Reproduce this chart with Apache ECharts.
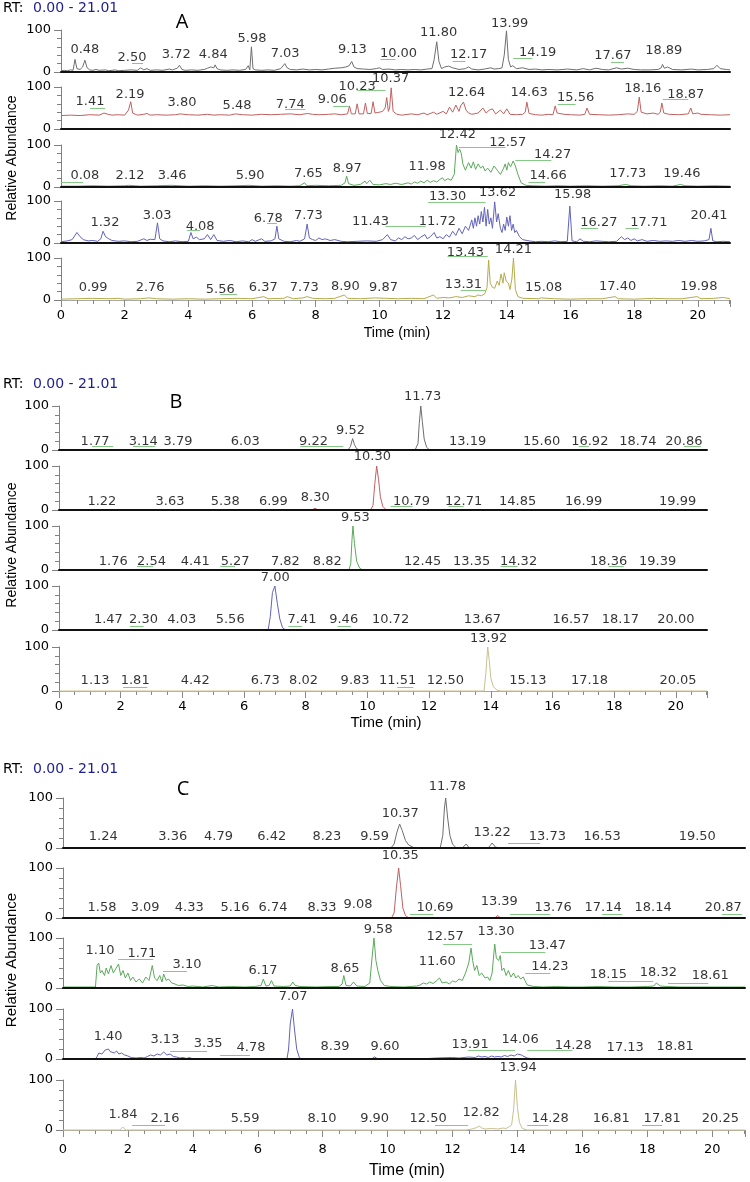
<!DOCTYPE html>
<html><head><meta charset="utf-8">
<script src="https://cdn.jsdelivr.net/npm/echarts@6/dist/echarts.min.js"></script>
<style>html,body{margin:0;padding:0;background:#fff}#c{width:750px;height:1182px}</style>
</head><body><div id="c"></div>
<script>
// ---------- DATA (time [min], relative abundance [%]) as flat t,v pairs ----------
const trA1 = [0,3, 0.1,4, 0.2,3, 0.3,5, 0.38,4, 0.44,30, 0.5,8, 0.6,6, 0.68,12, 0.75,28, 0.82,10, 0.9,5, 1.0,4, 1.1,6, 1.2,4, 1.4,5, 1.5,3, 1.7,5, 1.8,3, 2.0,4, 2.2,5, 2.4,4, 2.5,10, 2.6,5, 2.7,8, 2.8,4, 3.0,5, 3.2,4, 3.4,7, 3.5,5, 3.65,9, 3.72,16, 3.8,6, 3.9,4, 4.1,5, 4.3,4, 4.5,6, 4.6,9, 4.7,12, 4.8,10, 4.84,17, 4.9,8, 5.0,5, 5.2,4, 5.4,5, 5.6,4, 5.8,6, 5.88,15, 5.93,5, 5.98,60, 6.03,8, 6.1,5, 6.3,4, 6.5,5, 6.7,4, 6.9,8, 7.03,20, 7.1,10, 7.2,6, 7.4,5, 7.6,7, 7.8,5, 8.0,6, 8.2,5, 8.4,7, 8.6,9, 8.8,10, 8.95,12, 9.05,15, 9.13,25, 9.2,12, 9.3,8, 9.5,7, 9.7,6, 9.9,8, 10.0,10, 10.1,6, 10.3,7, 10.5,5, 10.7,6, 10.9,5, 11.1,6, 11.3,5, 11.5,7, 11.65,8, 11.72,30, 11.8,72, 11.87,25, 11.95,8, 12.05,12, 12.17,14, 12.3,10, 12.5,6, 12.7,8, 12.8,12, 12.9,7, 13.1,5, 13.3,7, 13.5,10, 13.6,7, 13.75,8, 13.85,10, 13.92,40, 13.99,98, 14.05,30, 14.12,12, 14.19,15, 14.3,8, 14.5,10, 14.7,6, 14.9,7, 15.1,5, 15.3,6, 15.6,5, 15.9,7, 16.2,5, 16.4,8, 16.6,5, 16.8,9, 17.0,6, 17.2,5, 17.45,10, 17.6,7, 17.8,9, 18.0,6, 18.2,5, 18.5,5, 18.75,6, 18.85,10, 18.89,18, 18.95,9, 19.05,12, 19.2,6, 19.5,5, 19.8,7, 20.0,5, 20.3,6, 20.5,8, 20.6,16, 20.7,8, 20.9,6, 21.01,5];
const trA2 = [0,32, 0.3,33, 0.6,32, 0.9,34, 1.2,33, 1.35,38, 1.41,42, 1.48,35, 1.6,33, 1.8,34, 2.0,33, 2.12,45, 2.19,65, 2.25,38, 2.4,33, 2.6,35, 2.7,37, 2.8,33, 3.0,34, 3.3,33, 3.6,34, 3.74,36, 3.8,40, 3.86,35, 4.0,34, 4.3,33, 4.6,35, 4.8,33, 5.0,34, 5.3,33, 5.48,36, 5.7,34, 6.0,33, 6.3,35, 6.6,34, 6.9,35, 7.2,36, 7.5,34, 7.74,37, 7.9,35, 8.1,34, 8.4,35, 8.6,36, 8.8,34, 9.0,36, 9.06,55, 9.12,36, 9.24,36, 9.3,60, 9.36,36, 9.5,36, 9.56,62, 9.62,37, 9.74,37, 9.8,65, 9.86,38, 10.0,40, 10.1,42, 10.18,50, 10.23,75, 10.28,42, 10.32,50, 10.37,98, 10.43,42, 10.55,35, 10.7,33, 11.0,36, 11.2,34, 11.4,38, 11.5,34, 11.7,40, 11.8,35, 12.0,42, 12.1,36, 12.2,52, 12.3,40, 12.4,57, 12.5,42, 12.55,55, 12.64,64, 12.72,45, 12.8,38, 12.9,35, 13.1,38, 13.25,50, 13.35,38, 13.45,45, 13.55,48, 13.65,36, 13.8,45, 13.9,36, 14.0,48, 14.1,35, 14.3,34, 14.5,35, 14.58,40, 14.63,64, 14.7,37, 14.9,34, 15.1,33, 15.3,35, 15.45,34, 15.52,55, 15.58,38, 15.8,35, 16.0,34, 16.3,33, 16.45,35, 16.52,50, 16.6,35, 16.9,34, 17.2,33, 17.5,34, 17.8,36, 18.0,35, 18.1,42, 18.16,76, 18.22,40, 18.4,36, 18.6,38, 18.75,35, 18.82,40, 18.87,62, 18.93,38, 19.1,35, 19.4,34, 19.7,36, 19.78,50, 19.84,36, 20.0,38, 20.1,35, 20.4,34, 20.7,33, 21.01,34];
const trA3 = [0,2, 0.5,2, 1.0,3, 1.5,2, 2.0,3, 2.12,4, 2.5,2, 3.0,3, 3.46,4, 4.0,2, 4.5,3, 5.0,2, 5.5,3, 5.9,4, 6.3,2, 6.8,3, 7.2,2, 7.5,3, 7.65,10, 7.72,3, 8.0,4, 8.4,3, 8.8,4, 8.92,10, 8.97,26, 9.03,8, 9.2,4, 9.4,6, 9.55,14, 9.6,8, 9.7,16, 9.8,6, 10.0,5, 10.2,8, 10.35,6, 10.5,9, 10.7,6, 10.9,10, 11.0,7, 11.1,12, 11.2,9, 11.3,14, 11.4,10, 11.5,16, 11.6,11, 11.7,15, 11.8,12, 11.9,18, 11.98,22, 12.05,15, 12.15,20, 12.25,16, 12.35,30, 12.42,100, 12.47,82, 12.52,90, 12.57,80, 12.62,55, 12.7,40, 12.8,58, 12.88,45, 12.95,60, 13.02,42, 13.1,55, 13.18,45, 13.25,50, 13.32,38, 13.4,45, 13.5,35, 13.6,50, 13.7,40, 13.8,30, 13.9,45, 13.95,55, 14.0,40, 14.05,58, 14.12,48, 14.2,62, 14.27,50, 14.35,30, 14.45,10, 14.6,4, 14.8,3, 15.2,2, 15.6,3, 16.0,2, 16.5,3, 17.0,2, 17.5,3, 17.73,6, 17.9,3, 18.3,2, 18.8,3, 19.2,2, 19.46,6, 19.6,3, 20.0,2, 20.5,3, 21.01,2];
const trA4 = [0,3, 0.2,5, 0.35,8, 0.5,25, 0.6,15, 0.7,8, 0.85,5, 1.0,6, 1.15,4, 1.25,10, 1.32,28, 1.4,15, 1.5,10, 1.6,6, 1.8,4, 2.0,5, 2.2,3, 2.4,4, 2.6,10, 2.7,6, 2.8,9, 2.95,8, 3.03,48, 3.1,10, 3.2,5, 3.4,3, 3.6,5, 3.8,3, 4.0,4, 4.08,25, 4.15,10, 4.25,14, 4.35,8, 4.5,10, 4.6,20, 4.7,8, 4.8,20, 4.9,6, 5.1,4, 5.3,6, 5.5,3, 5.7,5, 5.9,3, 6.0,8, 6.1,4, 6.3,10, 6.4,4, 6.6,5, 6.72,10, 6.78,40, 6.84,10, 7.0,4, 7.2,3, 7.4,6, 7.5,4, 7.65,10, 7.73,45, 7.8,12, 7.9,8, 8.0,6, 8.1,12, 8.2,8, 8.3,10, 8.45,6, 8.6,8, 8.8,4, 9.0,3, 9.3,4, 9.6,5, 9.9,4, 10.1,8, 10.25,20, 10.35,8, 10.5,5, 10.6,12, 10.7,8, 10.8,15, 10.9,10, 11.0,12, 11.1,18, 11.2,8, 11.3,14, 11.43,20, 11.5,10, 11.6,15, 11.72,25, 11.8,12, 11.9,15, 12.0,10, 12.1,20, 12.2,14, 12.3,28, 12.4,18, 12.5,35, 12.6,22, 12.7,40, 12.8,30, 12.9,55, 12.95,35, 13.0,60, 13.05,40, 13.1,65, 13.15,45, 13.2,75, 13.25,50, 13.3,85, 13.35,40, 13.4,80, 13.45,45, 13.5,60, 13.55,35, 13.62,98, 13.68,50, 13.73,70, 13.8,35, 13.85,25, 13.9,45, 13.95,30, 14.0,62, 14.05,40, 14.1,65, 14.15,30, 14.2,45, 14.25,25, 14.3,30, 14.4,15, 14.5,8, 14.7,5, 14.9,3, 15.1,4, 15.3,3, 15.5,5, 15.7,3, 15.9,4, 15.98,88, 16.05,5, 16.2,3, 16.3,10, 16.4,4, 16.6,3, 16.8,5, 17.0,4, 17.2,3, 17.45,4, 17.6,15, 17.7,8, 17.8,12, 17.9,6, 18.0,10, 18.1,5, 18.25,8, 18.4,4, 18.6,6, 18.8,4, 19.0,5, 19.2,4, 19.4,6, 19.6,4, 19.8,6, 20.0,4, 20.2,5, 20.35,8, 20.41,35, 20.47,5, 20.6,3, 20.8,4, 21.01,3];
const trA5 = [0,2, 0.5,3, 1.0,4, 1.5,3, 1.8,4, 2.0,2, 2.5,3, 2.76,5, 3.0,3, 3.5,2, 4.0,3, 4.5,2, 5.0,3, 5.56,4, 6.0,3, 6.37,8, 6.5,3, 7.0,4, 7.1,8, 7.3,3, 7.6,5, 7.73,8, 7.9,4, 8.3,3, 8.6,4, 8.9,12, 9.0,4, 9.4,3, 9.87,5, 10.2,4, 10.6,3, 11.0,4, 11.4,3, 11.7,12, 11.8,4, 12.0,6, 12.2,5, 12.4,8, 12.6,6, 12.8,10, 13.0,8, 13.1,12, 13.2,10, 13.31,15, 13.38,30, 13.43,95, 13.48,40, 13.55,30, 13.62,28, 13.7,45, 13.76,35, 13.82,62, 13.88,40, 13.92,65, 13.98,45, 14.05,40, 14.1,25, 14.16,50, 14.21,100, 14.27,25, 14.35,8, 14.5,4, 15.0,3, 15.08,5, 15.5,3, 16.0,2, 16.5,3, 17.0,3, 17.4,8, 17.5,3, 18.0,2, 18.6,4, 19.0,3, 19.5,3, 19.98,8, 20.1,3, 20.5,4, 20.8,6, 21.01,3];

const trB1 = [0,0, 1.0,0, 1.77,0.5, 3.0,0, 9.3,0, 9.38,1, 9.45,8, 9.52,26, 9.58,12, 9.65,3, 9.72,0.5, 11.55,0.5, 11.64,15, 11.68,60, 11.73,100, 11.78,65, 11.84,25, 11.92,6, 12.0,1, 12.2,0, 21.01,0];
const trB2 = [0,0, 8.2,0, 8.3,4, 8.4,0, 10.1,0, 10.18,10, 10.24,60, 10.3,100, 10.36,70, 10.42,30, 10.5,8, 10.6,1, 10.8,0, 21.01,0];
const trB3 = [0,0, 9.4,0, 9.46,15, 9.5,70, 9.53,100, 9.58,60, 9.65,20, 9.75,4, 9.85,0, 21.01,0];
const trB4 = [0,0, 6.78,0, 6.85,30, 6.92,85, 7.0,100, 7.08,60, 7.16,25, 7.25,5, 7.35,0, 21.01,0];
const trB5 = [0,0, 13.78,0, 13.84,40, 13.9,100, 13.95,70, 14.0,30, 14.08,10, 14.2,2, 14.3,0, 21.01,0];

const trC1 = [0,0, 10.1,0, 10.2,8, 10.28,30, 10.37,48, 10.45,35, 10.55,15, 10.65,6, 10.8,1, 11.0,0, 11.62,0, 11.7,25, 11.75,80, 11.79,100, 11.85,60, 11.92,25, 12.0,8, 12.1,1, 12.3,0, 12.42,8, 12.52,0, 13.1,0, 13.22,10, 13.32,2, 13.45,0, 21.01,0];
const trC2 = [0,0, 10.12,0, 10.2,10, 10.27,60, 10.34,100, 10.4,65, 10.47,20, 10.55,5, 10.65,0, 13.3,0, 13.39,5, 13.48,0, 21.01,0];
const trC3 = [0,2, 0.5,2, 1.0,2, 1.05,45, 1.1,50, 1.15,30, 1.2,35, 1.28,25, 1.33,40, 1.4,28, 1.48,45, 1.55,30, 1.62,38, 1.71,48, 1.78,25, 1.85,35, 1.92,20, 2.0,30, 2.08,15, 2.15,22, 2.25,12, 2.35,18, 2.45,10, 2.55,22, 2.65,15, 2.75,45, 2.82,20, 2.9,15, 2.98,25, 3.05,12, 3.1,28, 3.18,15, 3.25,18, 3.35,10, 3.45,8, 3.55,5, 3.7,6, 3.85,3, 4.0,4, 4.3,2, 4.6,5, 4.8,2, 5.2,3, 5.6,2, 5.9,3, 6.1,5, 6.17,18, 6.25,4, 6.35,5, 6.42,15, 6.5,4, 6.8,3, 7.0,4, 7.08,12, 7.15,5, 7.3,3, 7.8,2, 8.2,3, 8.5,3, 8.6,8, 8.65,25, 8.72,5, 8.85,4, 8.95,12, 9.05,4, 9.3,3, 9.45,10, 9.52,60, 9.58,100, 9.64,55, 9.7,35, 9.78,15, 9.9,5, 10.1,3, 10.5,2, 10.9,4, 11.0,6, 11.1,10, 11.2,8, 11.3,12, 11.4,9, 11.5,14, 11.6,20, 11.68,10, 11.8,12, 11.9,8, 12.0,14, 12.1,12, 12.2,18, 12.3,15, 12.4,30, 12.5,50, 12.57,80, 12.62,55, 12.68,35, 12.75,45, 12.82,25, 12.9,30, 13.0,20, 13.08,22, 13.15,15, 13.22,30, 13.3,88, 13.35,60, 13.42,55, 13.47,65, 13.52,35, 13.58,40, 13.65,25, 13.72,35, 13.8,22, 13.88,30, 13.95,20, 14.02,25, 14.1,18, 14.18,22, 14.23,15, 14.3,6, 14.5,3, 14.8,2, 15.2,3, 15.6,2, 16.0,2, 16.5,3, 17.0,2, 17.5,2, 18.0,3, 18.2,4, 18.28,10, 18.32,12, 18.4,4, 18.61,3, 19.0,2, 19.5,2, 20.0,2, 20.5,2, 21.01,2];
const trC4 = [0,0, 1.0,0, 1.05,5, 1.1,12, 1.2,10, 1.3,18, 1.4,20, 1.45,15, 1.5,18, 1.58,12, 1.65,16, 1.72,10, 1.8,12, 1.9,8, 2.0,6, 2.1,3, 2.25,2, 2.4,3, 2.5,2, 2.6,5, 2.7,8, 2.8,6, 2.9,10, 3.0,8, 3.1,14, 3.15,12, 3.2,8, 3.3,10, 3.4,5, 3.5,4, 3.6,2, 3.7,3, 3.8,1, 3.9,3, 4.0,0, 6.9,0, 6.95,20, 7.0,70, 7.07,100, 7.13,60, 7.2,20, 7.28,3, 7.35,0, 9.5,0, 9.6,4, 9.7,0, 11.0,0, 11.5,2, 12.0,3, 12.2,2, 12.5,4, 12.7,3, 12.8,6, 12.9,4, 13.0,5, 13.1,3, 13.2,6, 13.3,4, 13.4,5, 13.5,4, 13.6,7, 13.7,5, 13.8,8, 13.9,6, 14.0,10, 14.06,12, 14.12,8, 14.2,5, 14.3,2, 14.5,0, 18.8,0, 18.85,2, 18.9,0, 21.01,0];
const trC5 = [0,0, 1.75,0, 1.84,6, 1.93,0, 12.4,0, 12.6,2, 12.75,5, 12.82,8, 12.9,4, 13.0,2, 13.2,3, 13.4,2, 13.55,4, 13.65,3, 13.75,7, 13.82,10, 13.88,40, 13.94,100, 14.0,45, 14.06,15, 14.15,3, 14.3,0, 21.01,0];

// peak annotations: [text, time position, abundance position]
const lbA1 = [['0.48',0.75,53],['2.50',2.23,35],['3.72',3.62,42],['4.84',4.78,42],['5.98',6.0,79],['7.03',7.04,44],['9.13',9.15,53],['10.00',10.6,44],['11.80',11.86,93],['12.17',12.8,42],['13.99',14.09,116],['14.19',14.97,46],['17.67',17.33,40],['18.89',18.93,51]];
const lbA2 = [['1.41',0.91,64],['2.19',2.17,81],['3.80',3.8,62],['5.48',5.53,55],['7.74',7.2,57],['9.06',8.52,69],['10.23',9.3,102],['10.37',10.35,121],['12.64',12.74,86],['14.63',14.7,86],['15.56',16.16,74],['18.16',18.27,95],['18.87',19.62,81]];
const lbA3 = [['0.08',0.75,26],['2.12',2.17,26],['3.46',3.49,26],['5.90',5.94,26],['7.65',7.77,31],['8.97',8.99,43],['11.98',11.5,48],['12.42',12.45,124],['12.57',14.03,105],['14.27',15.44,76],['14.66',15.3,26],['17.73',17.8,31],['19.46',19.5,31]];
const lbA4 = [['1.32',1.38,48],['3.03',3.02,64],['4.08',4.37,40],['6.78',6.51,57],['7.73',7.77,64],['11.43',9.72,50],['11.72',11.82,50],['13.30',12.14,110],['13.62',13.71,119],['15.98',16.07,114],['16.27',16.89,48],['17.71',18.46,48],['20.41',20.35,64]];
const lbA5 = [['0.99',1.01,29],['2.76',2.8,29],['5.56',5.0,24],['6.37',6.35,29],['7.73',7.64,29],['8.90',8.93,33],['9.87',10.13,29],['13.31',12.64,36],['13.43',12.7,112],['14.21',14.21,119],['15.08',15.16,29],['17.40',17.48,31],['19.98',20.03,31]];
const lbB1 = [['1.77',1.17,20],['3.14',2.73,20],['3.79',3.86,20],['6.03',6.04,20],['9.22',8.25,20],['9.52',9.45,43],['11.73',11.79,121],['13.19',13.25,20],['15.60',15.65,20],['16.92',17.21,20],['18.74',18.77,20],['20.86',20.26,20]];
const lbB2 = [['1.22',1.39,20],['3.63',3.6,20],['5.38',5.39,20],['6.99',6.95,20],['8.30',8.31,27],['10.30',10.16,121],['10.79',11.43,20],['12.71',13.12,20],['14.85',14.87,20],['16.99',17.01,20],['19.99',20.06,20]];
const lbB3 = [['1.76',1.76,20],['2.54',3.0,20],['4.41',4.42,20],['5.27',5.71,20],['7.82',7.34,20],['8.82',8.7,20],['9.53',9.61,118],['12.45',11.79,20],['13.35',13.38,20],['14.32',14.9,20],['18.36',17.82,20],['19.39',19.41,20]];
const lbB4 = [['1.47',1.6,23],['2.30',2.74,23],['4.03',3.98,23],['5.56',5.55,23],['7.00',7.01,118],['7.41',7.88,23],['9.46',9.23,23],['10.72',10.75,23],['13.67',13.73,23],['16.57',16.6,23],['18.17',18.2,23],['20.00',20.0,23]];
const lbB5 = [['1.13',1.17,23],['1.81',2.47,23],['4.42',4.42,23],['6.73',6.69,23],['8.02',7.93,23],['9.83',9.6,23],['11.51',10.98,23],['12.50',12.53,23],['13.92',13.93,120],['15.13',15.2,23],['17.18',17.2,23],['20.05',20.07,23]];
const lbC1 = [['1.24',1.24,22],['3.36',3.38,22],['4.79',4.79,22],['6.42',6.43,22],['8.23',8.13,22],['9.59',9.6,22],['10.37',10.39,68],['11.78',11.84,122],['13.22',13.22,30],['13.73',14.92,22],['16.53',16.61,22],['19.50',19.54,22]];
const lbC2 = [['1.58',1.2,20],['3.09',2.53,20],['4.33',3.89,20],['5.16',5.3,20],['6.74',6.47,20],['8.33',7.98,20],['9.08',9.09,26],['10.35',10.39,124],['10.69',11.46,20],['13.39',13.44,32],['13.76',15.1,20],['17.14',16.64,20],['18.14',18.18,20],['20.87',20.34,20]];
const lbC3 = [['1.10',1.14,75],['1.71',2.43,69],['3.10',3.82,47],['6.17',6.16,35],['8.65',8.69,39],['9.58',9.71,116],['11.60',11.53,53],['12.57',11.77,102],['13.30',13.34,112],['13.47',14.92,84],['14.23',15.0,43],['18.15',16.8,27],['18.32',18.34,31],['18.61',19.94,24]];
const lbC4 = [['1.40',1.39,44],['3.13',3.14,38],['3.35',4.47,30],['4.78',5.79,22],['7.07',7.09,124],['8.39',8.38,24],['9.60',9.92,24],['13.91',12.54,28],['14.06',14.08,38],['14.28',15.72,26],['17.13',17.32,22],['18.81',18.86,24]];
const lbC5 = [['1.84',1.85,30],['2.16',3.14,22],['5.59',5.61,22],['8.10',7.98,22],['9.90',9.6,22],['12.50',11.25,22],['12.82',12.88,34],['13.94',14.02,124],['14.28',15.01,22],['16.81',16.89,22],['17.81',18.46,22],['20.25',20.25,22]];

// leader lines: [from time, to time, abundance]
const ldA1 = [[2.23,2.58,22],[10.03,10.5,30],[12.3,12.7,26],[14.2,14.8,33],[17.27,17.68,23]];
const ldA2 = [[0.91,1.38,50],[7.04,7.67,48],[8.55,9.03,55],[9.3,10.19,93],[15.6,16.16,60],[18.9,19.7,71]];
const ldA3 = [[0,0.7,12],[12.5,13.96,95],[14.27,15.4,64],[14.68,15.2,12]];
const ldA4 = [[3.96,4.37,31],[6.47,6.78,48],[10.19,11.45,39],[11.53,13.33,98],[16.32,16.86,36],[17.73,18.14,36]];
const ldA5 = [[5.0,5.53,13],[12.55,13.33,24],[12.14,13.4,103]];
const ldB1 = [[1.07,1.75,9],[2.4,3.12,9],[7.82,9.22,9],[16.85,17.18,9],[20.26,20.81,9]];
const ldB2 = [[10.75,11.46,9],[12.63,13.12,9]];
const ldB3 = [[2.53,3.05,9],[5.23,5.71,9],[14.32,14.87,9],[17.82,18.31,9]];
const ldB4 = [[2.3,2.74,9],[7.44,7.88,9],[9.03,9.46,9]];
const ldB5 = [[2.08,2.86,9],[10.97,11.49,9]];
const ldC1 = [[13.71,14.7,10]];
const ldC2 = [[10.69,11.4,8],[13.77,15.01,8],[16.61,17.23,8],[20.3,20.92,8]];
const ldC3 = [[1.7,2.78,57],[3.08,3.82,33],[11.71,12.6,88],[13.5,14.86,72],[14.24,15.01,29],[16.8,18.18,14],[18.64,19.88,10]];
const ldC4 = [[3.3,4.44,16],[4.84,5.76,8],[12.48,13.93,18],[14.3,15.69,18]];
const ldC5 = [[2.13,3.14,10],[11.46,12.48,10],[14.3,14.95,10],[17.84,18.46,10]];

const timeTicks = [0,2,4,6,8,10,12,14,16,18,20];
const rtRange = '0.00 - 21.01';
const panelLetters = ['A','B','C'];

// ---------- LAYOUT / STYLE ----------
const colA = ['#6e6e6e','#c06060','#5aaa5a','#6262bc','#b4ac48'];
const colBC = ['#6e6e6e','#c06060','#5aaa5a','#6262bc','#c8c08c'];
const panels = [
  {left:61, width:669, tops:[30,87,145,201,258], h:42, tr:[trA1,trA2,trA3,trA4,trA5], lb:[lbA1,lbA2,lbA3,lbA4,lbA5], ld:[ldA1,ldA2,ldA3,ldA4,ldA5], col:colA,
   rtY:8, let:[182,22], yl:158, ylSize:14, tl:[397,333], tlSize:14, xlm:9},
  {left:59, width:648, tops:[406,466,526,586,647], h:44, tr:[trB1,trB2,trB3,trB4,trB5], lb:[lbB1,lbB2,lbB3,lbB4,lbB5], ld:[ldB1,ldB2,ldB3,ldB4,ldB5], col:colBC,
   rtY:384, let:[176,402], yl:545, ylSize:14, tl:[386,723], tlSize:15, xlm:9},
  {left:63, width:682, tops:[798,868,938,1009,1080], h:50, tr:[trC1,trC2,trC3,trC4,trC5], lb:[lbC1,lbC2,lbC3,lbC4,lbC5], ld:[ldC1,ldC2,ldC3,ldC4,ldC5], col:colBC,
   rtY:769, let:[183,789], yl:960, ylSize:15, tl:[407,1171], tlSize:16, xlm:13}
];
const LBL_FONT = 'DejaVu Sans';

function pairs(a){const r=[];for(let i=0;i<a.length;i+=2)r.push([a[i],a[i+1]]);return r;}

const option = {animation:false, grid:[], xAxis:[], yAxis:[], series:[], graphic:[]};
let gi = 0;
panels.forEach((p,pi)=>{
  for(let r=0;r<5;r++){
    const last = r===4;
    option.grid.push({left:p.left, top:p.tops[r], width:p.width, height:p.h, containLabel:false, outerBoundsMode:'none'});
    option.xAxis.push({gridIndex:gi, type:'value', min:0, max:21.01, interval:2, z:last?0:3,
      axisLine:{show:true, onZero:false, lineStyle:{color:last?'#a8a8a8':'#111', width:last?1:2}},
      axisTick:{show:last, length:7, lineStyle:{color:'#888'}},
      minorTick:{show:last, splitNumber:4, length:4, lineStyle:{color:'#888'}},
      axisLabel:{show:last, margin:p.xlm, fontSize:13, fontFamily:LBL_FONT, color:'#000',
        formatter:v=>timeTicks.indexOf(Math.round(v*100)/100)>=0?String(v):''},
      splitLine:{show:false}, minorSplitLine:{show:false}});
    option.yAxis.push({gridIndex:gi, type:'value', min:0, max:100, interval:100,
      axisLine:{show:true, lineStyle:{color:'#808080', width:1}},
      axisTick:{show:true, length:7, lineStyle:{color:'#808080'}},
      minorTick:{show:true, splitNumber:5, length:4, lineStyle:{color:'#808080'}},
      axisLabel:{show:true, margin:10, fontSize:13, fontFamily:LBL_FONT, color:'#000'},
      splitLine:{show:false}, minorSplitLine:{show:false}});
    option.series.push({type:'line', xAxisIndex:gi, yAxisIndex:gi, data:pairs(p.tr[r]), showSymbol:false, symbol:'none',
      clip:false, lineStyle:{color:p.col[r], width:1}, z:2});
    option.series.push({type:'lines', coordinateSystem:'cartesian2d', xAxisIndex:gi, yAxisIndex:gi, clip:false,
      lineStyle:{color:'#86c886', width:1, opacity:1}, z:2,
      data:p.ld[r].map(l=>({coords:[[l[0],l[2]],[l[1],l[2]]]}))});
    option.series.push({type:'scatter', xAxisIndex:gi, yAxisIndex:gi, clip:false, symbolSize:1, z:4,
      itemStyle:{color:'rgba(0,0,0,0)'},
      label:{show:true, position:'inside', formatter:'{b}', fontSize:13, fontFamily:LBL_FONT, color:'#000'},
      data:p.lb[r].map(l=>({name:l[0], value:[l[1],l[2]]}))});
    gi++;
  }
  option.graphic.push({type:'text', x:3, y:p.rtY, style:{text:'RT:', font:'14px "DejaVu Sans"', fill:'#000', verticalAlign:'middle'}});
  option.graphic.push({type:'text', x:33, y:p.rtY, style:{text:rtRange, font:'14px "DejaVu Sans"', fill:'#1e1e8c', verticalAlign:'middle'}});
  option.graphic.push({type:'text', x:p.let[0], y:p.let[1], style:{text:panelLetters[pi], font:'20px "Open Sans"', fill:'#000', align:'center', verticalAlign:'middle'}});
  option.graphic.push({type:'text', x:12, y:p.yl, rotation:Math.PI/2, style:{text:'Relative Abundance', font:p.ylSize+'px "Liberation Sans"', fill:'#000', align:'center', verticalAlign:'middle'}});
  option.graphic.push({type:'text', x:p.tl[0], y:p.tl[1], style:{text:'Time (min)', font:p.tlSize+'px "Liberation Sans"', fill:'#000', align:'center', verticalAlign:'middle'}});
});

const chart = echarts.init(document.getElementById('c'), null, {renderer:'canvas'});
chart.setOption(option);
</script>
</body></html>
